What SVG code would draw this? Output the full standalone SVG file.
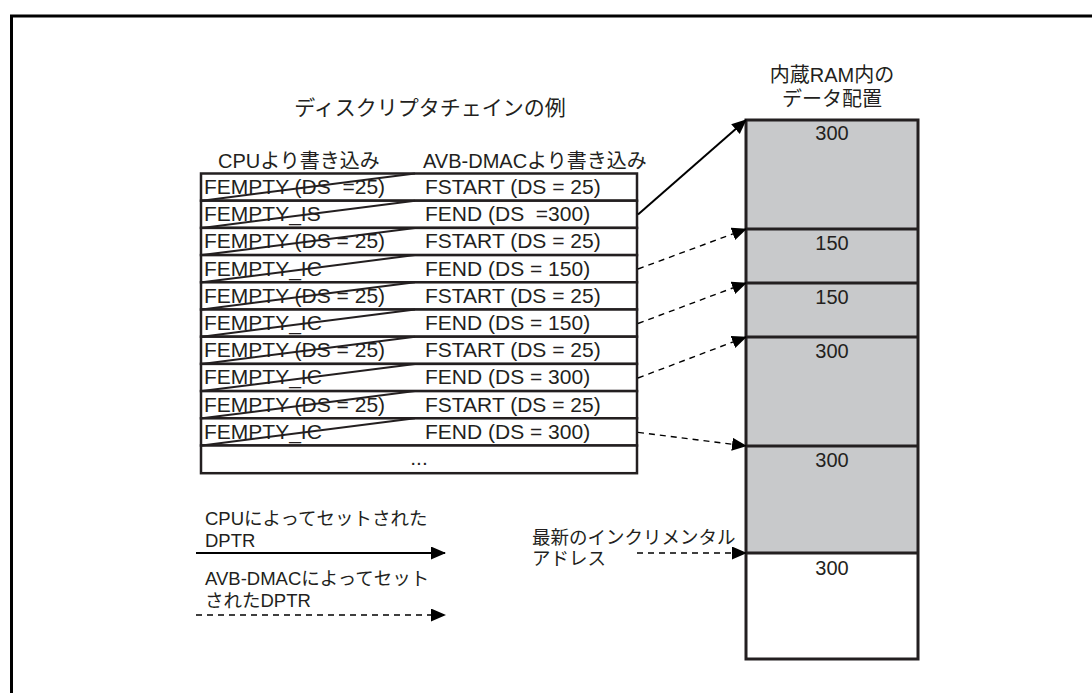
<svg xmlns="http://www.w3.org/2000/svg" width="1092" height="693" viewBox="0 0 1092 693">
<style>
text{font-family:"Liberation Sans","Noto Sans CJK JP",sans-serif;fill:#231f20;white-space:pre}
.t21{font-size:21px}
.t20{font-size:20px}
.t18{font-size:18.5px}
.row{fill:#fff;stroke:#231f20;stroke-width:2.5}
.strike{stroke:#231f20;stroke-width:2;fill:none}
.ram{stroke:#231f20;stroke-width:3}
.solid{stroke:#000;stroke-width:2;fill:none}
.dash{stroke:#000;stroke-width:1.4;fill:none;stroke-dasharray:6 5}
</style>
<defs>
<marker id="ah" markerUnits="userSpaceOnUse" markerWidth="16" markerHeight="14" refX="14" refY="6.5" orient="auto">
<path d="M0,0 L15,6.5 L0,13 Z" fill="#000"/>
</marker>
</defs>
<rect width="1092" height="693" fill="#fff"/>
<path d="M11.5,700 V16 H1100" fill="none" stroke="#000" stroke-width="3"/>

<g id="title">
<text class="t21" x="430" y="115" text-anchor="middle">ディスクリプタチェインの例</text>
<text class="t20" x="218" y="168">CPUより書き込み</text>
<text class="t20" x="423" y="168">AVB-DMACより書き込み</text>
</g>

<g id="table">
<rect class="row" x="201" y="173.5" width="436" height="27.2"/>
<rect class="row" x="201" y="200.7" width="436" height="27.2"/>
<rect class="row" x="201" y="227.9" width="436" height="27.2"/>
<rect class="row" x="201" y="255.1" width="436" height="27.2"/>
<rect class="row" x="201" y="282.3" width="436" height="27.2"/>
<rect class="row" x="201" y="309.5" width="436" height="27.2"/>
<rect class="row" x="201" y="336.7" width="436" height="27.2"/>
<rect class="row" x="201" y="363.9" width="436" height="27.2"/>
<rect class="row" x="201" y="391.1" width="436" height="27.2"/>
<rect class="row" x="201" y="418.3" width="436" height="27.2"/>
<rect class="row" x="201" y="445.5" width="436" height="27.7"/>
<g class="t21">
<text x="204" y="194" xml:space="preserve">FEMPTY (DS  =25)</text><text x="425" y="194">FSTART (DS = 25)</text>
<text x="204" y="221.2">FEMPTY_IS</text><text x="425" y="221.2" xml:space="preserve">FEND (DS  =300)</text>
<text x="204" y="248.4">FEMPTY (DS = 25)</text><text x="425" y="248.4">FSTART (DS = 25)</text>
<text x="204" y="275.6">FEMPTY_IC</text><text x="425" y="275.6">FEND (DS = 150)</text>
<text x="204" y="302.8">FEMPTY (DS = 25)</text><text x="425" y="302.8">FSTART (DS = 25)</text>
<text x="204" y="330">FEMPTY_IC</text><text x="425" y="330">FEND (DS = 150)</text>
<text x="204" y="357.2">FEMPTY (DS = 25)</text><text x="425" y="357.2">FSTART (DS = 25)</text>
<text x="204" y="384.4">FEMPTY_IC</text><text x="425" y="384.4">FEND (DS = 300)</text>
<text x="204" y="411.6">FEMPTY (DS = 25)</text><text x="425" y="411.6">FSTART (DS = 25)</text>
<text x="204" y="438.8">FEMPTY_IC</text><text x="425" y="438.8">FEND (DS = 300)</text>
<text x="419" y="465" text-anchor="middle">...</text>
</g>
<path class="strike" d="M202,200.7 L415,173.5 M202,227.9 L415,200.7 M202,255.1 L415,227.9 M202,282.3 L415,255.1 M202,309.5 L415,282.3 M202,336.7 L415,309.5 M202,363.9 L415,336.7 M202,391.1 L415,363.9 M202,418.3 L415,391.1 M202,445.5 L415,418.3"/>
</g>

<g id="ram">
<text class="t20" x="832" y="82" text-anchor="middle">内蔵RAM内の</text>
<text class="t20" x="832" y="106" text-anchor="middle">データ配置</text>
<rect x="746" y="120" width="172" height="433" fill="#c8c9cb"/>
<rect x="746" y="553" width="172" height="106" fill="#fff"/>
<rect class="ram" x="746" y="120" width="172" height="539" fill="none"/>
<path class="ram" d="M746,229 H918 M746,283 H918 M746,337 H918 M746,446 H918 M746,553 H918"/>
<g class="t20" text-anchor="middle">
<text x="832" y="140">300</text>
<text x="832" y="250">150</text>
<text x="832" y="304">150</text>
<text x="832" y="358">300</text>
<text x="832" y="467">300</text>
<text x="832" y="575">300</text>
</g>
</g>

<g id="legend">
<text class="t18" x="205" y="525">CPUによってセットされた</text>
<text class="t18" x="205" y="547">DPTR</text>
<text class="t18" x="205" y="585">AVB-DMACによってセット</text>
<text class="t18" x="205" y="607">されたDPTR</text>
<text class="t18" x="532" y="544">最新のインクリメンタル</text>
<text class="t18" x="532" y="565">アドレス</text>
</g>

<g id="connectors">
<path class="solid" d="M638,214.6 L746,120" marker-end="url(#ah)"/>
<path class="dash" d="M638,269 L746,229" marker-end="url(#ah)"/>
<path class="dash" d="M638,323.5 L746,283" marker-end="url(#ah)"/>
<path class="dash" d="M638,378 L746,337" marker-end="url(#ah)"/>
<path class="dash" d="M638,432.4 L746,446" marker-end="url(#ah)"/>
<path class="solid" d="M196,553 L445,553" marker-end="url(#ah)"/>
<path class="dash" d="M196,615 L445,615" marker-end="url(#ah)"/>
<path class="dash" d="M637,553 L746,553" marker-end="url(#ah)"/>
</g>
</svg>
